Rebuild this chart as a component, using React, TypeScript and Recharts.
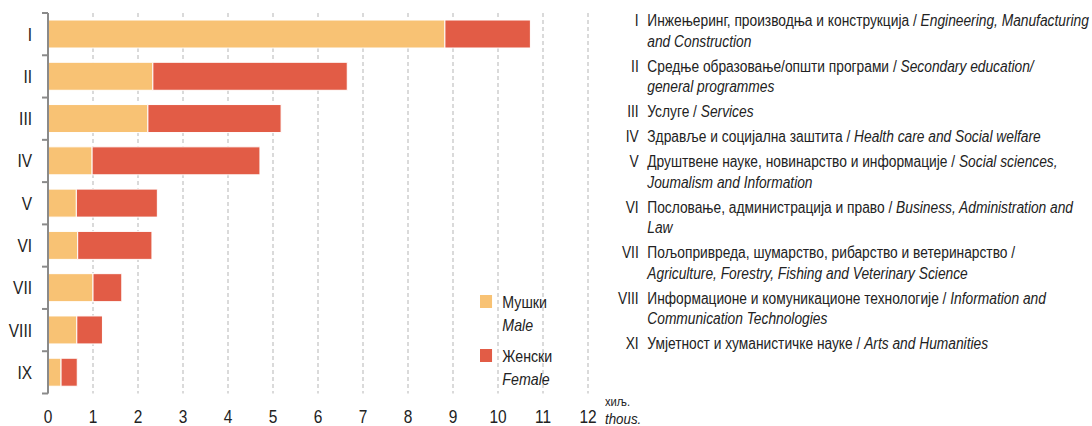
import React from "react";
import { BarChart, Bar, XAxis, YAxis, CartesianGrid, Legend } from "recharts";

const categories = ["I", "II", "III", "IV", "V", "VI", "VII", "VIII", "IX"];
const maleValues = [8.82, 2.33, 2.22, 0.98, 0.63, 0.66, 1.0, 0.64, 0.29];
const femaleValues = [1.9, 4.32, 2.96, 3.73, 1.8, 1.65, 0.64, 0.57, 0.36];
const xTicks = [0, 1, 2, 3, 4, 5, 6, 7, 8, 9, 10, 11, 12];

const seriesOrder = ["male", "female"];
const seriesNames: Record<string, [string, string]> = { male: ["Мушки", "Male"], female: ["Женски", "Female"] };

const listNumerals = ["I", "II", "III", "IV", "V", "VI", "VII", "VIII", "XI"];
// each line: [normal text, italic text]
const listLines: [string, string][][] = [
  [["Инжењеринг, производња и конструкција / ", "Engineering, Manufacturing"], ["", "and Construction"]],
  [["Средње образовање/општи програми / ", "Secondary education/"], ["", "general programmes"]],
  [["Услуге / ", "Services"]],
  [["Здравље и социјална заштита / ", "Health care and Social welfare"]],
  [["Друштвене науке, новинарство и информације / ", "Social sciences,"], ["", "Joumalism and Information"]],
  [["Пословање, администрација и право / ", "Business, Administration and"], ["", "Law"]],
  [["Пољопривреда, шумарство, рибарство и ветеринарство /", ""], ["", "Agriculture, Forestry, Fishing and Veterinary Science"]],
  [["Информационе и комуникационе технологије / ", "Information and"], ["", "Communication Technologies"]],
  [["Умјетност и хуманистичке науке / ", "Arts and Humanities"]],
];

const data = categories.map((c, i) => ({ name: c, male: maleValues[i], female: femaleValues[i] }));

const FONT = "'Liberation Sans', Arial, sans-serif";
const TEXT = "#222";
const MALE = "#F8C274";
const FEMALE = "#E25C46";
const AXIS = "#8a8a8a";
const NARROW = 0.86;

const W = 1092;
const H = 426;
const MARGIN = { top: 13, right: 504, bottom: 0, left: 0 };
const XAXIS_H = 32.5;
const PLOT_H = H - MARGIN.top - MARGIN.bottom - XAXIS_H;
const BAND = PLOT_H / categories.length;

const YTick = (props: any) => {
  const { x, y, payload, index } = props;
  const axisX = x + 14;
  return (
    <g>
      <g transform={`translate(${x - 2},${y}) scale(${NARROW},1)`}>
        <text x={0} y={0} dy={6.5} textAnchor="end" fontSize={18} fill={TEXT} fontFamily={FONT}>
          {payload.value}
        </text>
      </g>
      <line x1={axisX - 6} x2={axisX} y1={y - BAND / 2} y2={y - BAND / 2} stroke={AXIS} strokeWidth={2} />
      {index === categories.length - 1 && (
        <line x1={axisX - 6} x2={axisX} y1={y + BAND / 2} y2={y + BAND / 2} stroke={AXIS} strokeWidth={2} />
      )}
    </g>
  );
};

const XTick = (props: any) => {
  const { x, y, payload } = props;
  return (
    <g transform={`translate(${x},${y}) scale(${NARROW},1)`}>
      <text x={0} y={0} dy={6.5} textAnchor="middle" fontSize={18} fill={TEXT} fontFamily={FONT}>
        {payload.value}
      </text>
    </g>
  );
};

const LegendContent = (props: any) => {
  const payload = [...(props.payload || [])].sort(
    (a: any, b: any) => seriesOrder.indexOf(a.dataKey) - seriesOrder.indexOf(b.dataKey)
  );
  return (
    <div style={{ fontFamily: FONT, color: TEXT, fontSize: 16.5, transform: `scaleX(${NARROW})`, transformOrigin: "left top" }}>
      {payload.map((p: any) => {
        const names = seriesNames[p.dataKey];
        return (
          <div key={p.dataKey} style={{ display: "flex", alignItems: "flex-start", marginBottom: 8 }}>
            <div style={{ width: 14, height: 13, background: p.color, marginTop: 4, marginRight: 12 }} />
            <div style={{ lineHeight: "23px" }}>
              <div>{names[0]}</div>
              <div style={{ fontStyle: "italic" }}>{names[1]}</div>
            </div>
          </div>
        );
      })}
    </div>
  );
};

export default function App() {
  return (
    <div style={{ position: "absolute", left: 0, top: 0, width: W, height: H, background: "#fff", overflow: "hidden" }}>
      <BarChart width={W} height={H} data={data} layout="vertical" margin={MARGIN} barSize={28}>
        <CartesianGrid horizontal={false} stroke="#b5b5b5" strokeDasharray="4 3" />
        <XAxis
          type="number"
          domain={[0, 12]}
          ticks={xTicks}
          interval={0}
          axisLine={false}
          tickLine={false}
          tickSize={0}
          tickMargin={23}
          height={XAXIS_H}
          tick={<XTick />}
        />
        <YAxis
          type="category"
          dataKey="name"
          width={48}
          axisLine={{ stroke: AXIS, strokeWidth: 2 }}
          tickLine={false}
          tickSize={6}
          tickMargin={8}
          tick={<YTick />}
          interval={0}
        />
        <Legend
          layout="vertical"
          verticalAlign="middle"
          align="center"
          content={<LegendContent />}
          wrapperStyle={{ position: "absolute", left: 480, top: 291, width: 100 }}
        />
        <Bar dataKey="male" stackId="a" fill={MALE} stroke="#fff" strokeWidth={1} isAnimationActive={false} />
        <Bar dataKey="female" stackId="a" fill={FEMALE} stroke="#fff" strokeWidth={1} isAnimationActive={false} />
      </BarChart>
      <div style={{ position: "absolute", left: 605, top: 395, fontFamily: FONT, color: TEXT, fontSize: 13, lineHeight: "14px", transform: `scaleX(${NARROW})`, transformOrigin: "left top" }}>
        хиљ.
      </div>
      <div style={{ position: "absolute", left: 605, top: 411, fontFamily: FONT, color: TEXT, fontSize: 15.5, fontStyle: "italic", lineHeight: "16px", transform: `scaleX(${NARROW})`, transformOrigin: "left top" }}>
        thous.
      </div>
      <div style={{ position: "absolute", left: 600, top: 11, fontFamily: FONT, color: TEXT, fontSize: 16, transform: `scaleX(${NARROW})`, transformOrigin: "left top" }}>
        {listLines.map((lines, i) => (
          <div key={i} style={{ display: "flex", marginBottom: 4.5 }}>
            <div style={{ width: 45, textAlign: "right", paddingRight: 10, lineHeight: "20.5px", flexShrink: 0 }}>{listNumerals[i]}</div>
            <div style={{ lineHeight: "20.5px" }}>
              {lines.map((ln, j) => (
                <div key={j} style={{ whiteSpace: "nowrap" }}>
                  {ln[0]}
                  <span style={{ fontStyle: "italic" }}>{ln[1]}</span>
                </div>
              ))}
            </div>
          </div>
        ))}
      </div>
    </div>
  );
}
